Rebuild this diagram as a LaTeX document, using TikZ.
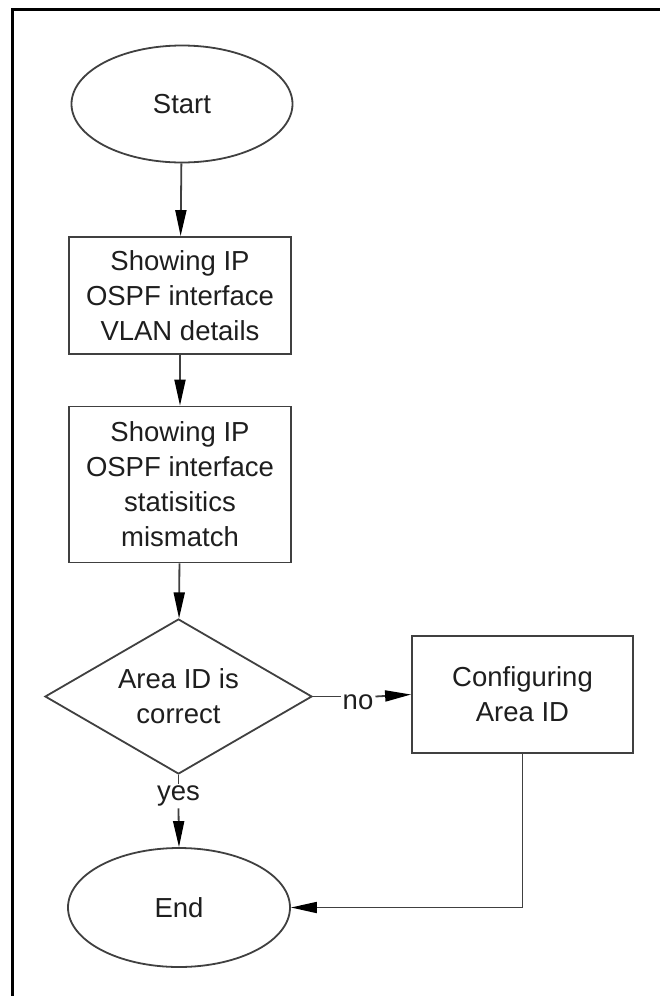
\documentclass[tikz,border=0pt]{standalone}
\usepackage{fontspec}
\setmainfont{Liberation Sans}
\usetikzlibrary{shapes.geometric,arrows.meta}
\definecolor{lncol}{HTML}{404040}
\definecolor{txcol}{HTML}{1E1E1E}
\begin{document}
\begin{tikzpicture}[x=1pt,y=-1pt,
  every node/.style={font=\fontsize{27.5}{35}\selectfont, text=txcol},
  base/.style={draw=lncol, line width=1.8pt, align=center, inner sep=0pt},
  termbox/.style={base, ellipse, minimum width=221pt, minimum height=117pt},
  procbox/.style={base, rectangle},
  decbox/.style={base, diamond, aspect=1.72, minimum width=267pt, minimum height=155pt},
  lbl/.style={inner sep=2pt},
  conn/.style={draw=lncol, line width=1.8pt},
  arr/.style={conn, -{Triangle[length=26pt,width=11pt,color=black]}}
]
\useasboundingbox (0,0) rectangle (660,996);
\fill[white] (0,0) rectangle (660,996);
\draw[black, line width=3pt] (12.5,1000) -- (12.5,9.5) -- (665,9.5);

\node[termbox] (start) at (182,104) {Start};
\node[procbox, minimum width=222pt, minimum height=117pt] (b1) at (180,295.5)
  {Showing IP\\OSPF interface\\VLAN details};
\node[procbox, minimum width=222pt, minimum height=156pt] (b2) at (180,484.5)
  {Showing IP\\OSPF interface\\statisitics\\mismatch};
\node[decbox] (dec) at (178.5,696.5) {Area ID is\\correct};
\node[procbox, minimum width=221pt, minimum height=117pt] (b3) at (522.5,694.5)
  {Configuring\\Area ID};
\node[termbox, minimum width=222pt, minimum height=119pt] (endn) at (179,907.5) {End};
\node[lbl] (no) at (358,702) {no};
\node[lbl] (yes) at (178.5,796) {yes};

\draw[arr] (start) -- (b1);
\draw[arr] (b1) -- (b2);
\draw[arr] (b2) -- (dec);
\draw[conn] (dec.east) -- (no.west |- dec.east);
\draw[arr] (no.east |- dec.east) -- (b3.west);
\draw[conn] (dec.south) -- (yes.north);
\draw[arr] (yes.south) -- (endn.north);
\draw[arr] (b3.south) |- (endn.east);
\end{tikzpicture}
\end{document}
